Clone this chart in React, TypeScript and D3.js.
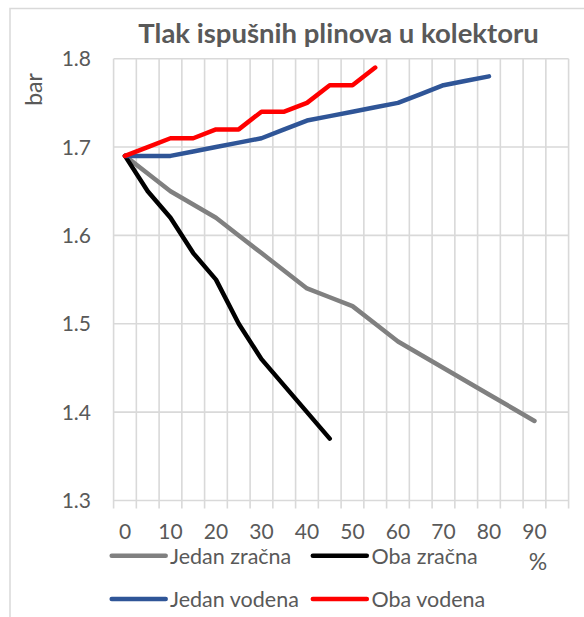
import React from "react";
import * as d3 from "d3";

const categories = [0, 5, 10, 15, 20, 25, 30, 35, 40, 45, 50, 55, 60, 65, 70, 75, 80, 85, 90, 95];
const xTickLabels = ["0", "10", "20", "30", "40", "50", "60", "70", "80", "90"];
const yTicks = [1.3, 1.4, 1.5, 1.6, 1.7, 1.8];

const jedanZracna = [1.69, 1.67, 1.65, 1.635, 1.62, 1.6, 1.58, 1.56, 1.54, 1.53, 1.52, 1.5, 1.48, 1.465, 1.45, 1.435, 1.42, 1.405, 1.39];
const obaZracna = [1.69, 1.65, 1.62, 1.58, 1.55, 1.5, 1.46, 1.43, 1.4, 1.37];
const jedanVodena = [1.69, 1.69, 1.69, 1.695, 1.7, 1.705, 1.71, 1.72, 1.73, 1.735, 1.74, 1.745, 1.75, 1.76, 1.77, 1.775, 1.78];
const obaVodena = [1.69, 1.7, 1.71, 1.71, 1.72, 1.72, 1.74, 1.74, 1.75, 1.77, 1.77, 1.79];

const seriesNames = ["Jedan zračna", "Oba zračna", "Jedan vodena", "Oba vodena"];
const seriesColors = ["#808080", "#000000", "#2f5597", "#ff0000"];
const seriesData = [jedanZracna, obaZracna, jedanVodena, obaVodena];

const W = 584;
const H = 617;
const plotLeft = 113.6;
const plotRight = 568.6;
const plotTop = 58.7;
const plotBottom = 500.5;
const FONT = "Lato, 'Open Sans', sans-serif";
const TEXT = "#595959";
const GRID = "#d9d9d9";

export default function App() {
  const x = d3.scaleBand<number>().domain(categories).range([plotLeft, plotRight]).padding(0);
  const y = d3.scaleLinear().domain([1.3, 1.8]).range([plotBottom, plotTop]);
  const bw = x.bandwidth();
  const cx = (i: number) => (x(categories[i]) as number) + bw / 2;

  const line = d3
    .line<number>()
    .x((_, i) => cx(i))
    .y((d) => y(d));

  const boundaries = d3.range(categories.length + 1).map((i) => plotLeft + i * bw);

  const legendItems = [
    { lx: 111.7, ly: 555.7, tx: 170, ty: 563.5 },
    { lx: 312.8, ly: 555.7, tx: 371.5, ty: 563.5 },
    { lx: 111.7, ly: 599, tx: 170, ty: 606.5 },
    { lx: 312.8, ly: 599, tx: 371.5, ty: 606.5 },
  ];

  return (
    <div style={{ position: "absolute", left: 0, top: 0 }}>
      <svg width={W} height={H} style={{ display: "block", background: "#fff" }}>
        <rect x={10} y={8.5} width={700} height={800} fill="#fff" stroke={GRID} strokeWidth={1.5} />
        <text
          x={338.5}
          y={43}
          textAnchor="middle"
          fontFamily={FONT}
          fontWeight="bold"
          fontSize={27.5}
          fill={TEXT}
        >
          Tlak ispušnih plinova u kolektoru
        </text>

        {boundaries.map((bx, i) => (
          <line key={"v" + i} x1={bx} x2={bx} y1={plotTop} y2={plotBottom + 8} stroke={GRID} strokeWidth={1.6} />
        ))}
        {yTicks.map((t) => (
          <line key={"h" + t} x1={plotLeft} x2={plotRight} y1={y(t)} y2={y(t)} stroke={GRID} strokeWidth={1.6} />
        ))}

        {yTicks.map((t) => (
          <text
            key={"yl" + t}
            x={91}
            y={y(t)}
            dy="0.36em"
            textAnchor="end"
            fontFamily={FONT}
            fontSize={21}
            fill={TEXT}
          >
            {t.toFixed(1)}
          </text>
        ))}

        {categories.map((c, i) =>
          xTickLabels.includes(String(c)) ? (
            <text
              key={"xl" + c}
              x={cx(i)}
              y={539}
              textAnchor="middle"
              fontFamily={FONT}
              fontSize={21}
              fill={TEXT}
            >
              {String(c)}
            </text>
          ) : null
        )}

        <text
          transform={`translate(41.5, 89.5) rotate(-90)`}
          textAnchor="middle"
          fontFamily={FONT}
          fontSize={23}
          fill={TEXT}
        >
          bar
        </text>
        <text x={538} y={570} textAnchor="middle" fontFamily={FONT} fontSize={23} fill={TEXT}>
          %
        </text>

        {seriesData.map((s, k) => (
          <path
            key={"s" + k}
            d={line(s) || ""}
            fill="none"
            stroke={seriesColors[k]}
            strokeWidth={4.5}
            strokeLinejoin="round"
            strokeLinecap="round"
          />
        ))}

        {legendItems.map((it, k) => (
          <g key={"lg" + k}>
            <line
              x1={it.lx}
              x2={it.lx + 54}
              y1={it.ly}
              y2={it.ly}
              stroke={seriesColors[k]}
              strokeWidth={4.5}
              strokeLinecap="round"
            />
            <text x={it.tx} y={it.ty} fontFamily={FONT} fontSize={21.5} fill={TEXT}>
              {seriesNames[k]}
            </text>
          </g>
        ))}
      </svg>
    </div>
  );
}
